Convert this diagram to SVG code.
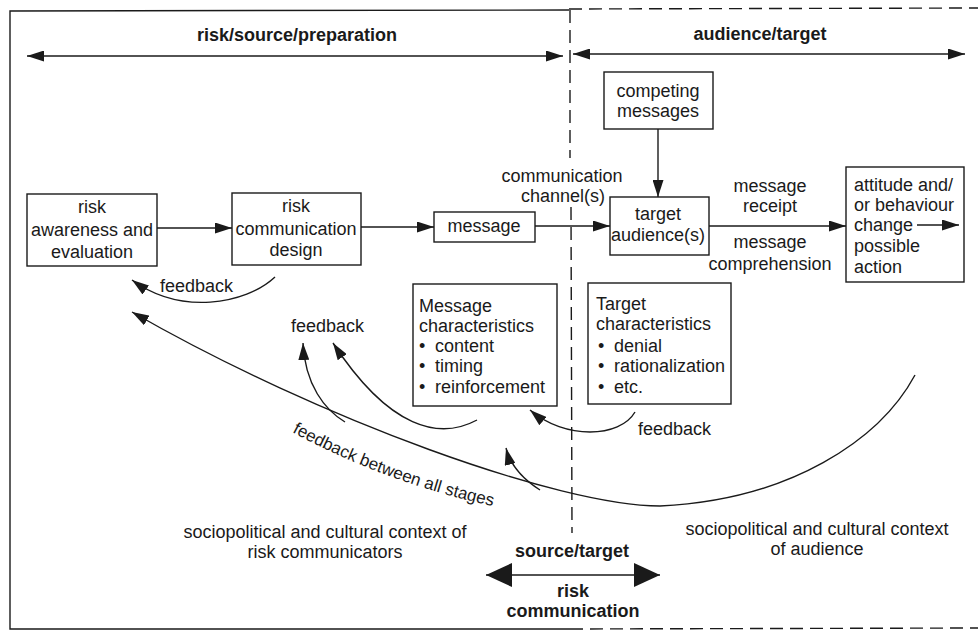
<svg xmlns="http://www.w3.org/2000/svg" width="978" height="632" viewBox="0 0 978 632">
  <style>
    .t { font-family: "Liberation Sans", Arial, sans-serif; font-size: 18px; fill: #1a1a1a; }
    .c { text-anchor: middle; }
    .b { font-weight: bold; }
    .box { fill: none; stroke: #1a1a1a; stroke-width: 1.4; }
    .ln { fill: none; stroke: #1a1a1a; stroke-width: 1.4; }
    .arr { marker-end: url(#ah); }
    .dash { fill: none; stroke: #1a1a1a; stroke-width: 1.4; stroke-dasharray: 13 7; }
  </style>
  <defs>
    <marker id="ah" markerUnits="userSpaceOnUse" markerWidth="17" markerHeight="11" refX="17" refY="5.5" orient="auto-start-reverse">
      <path d="M0,0 L17,5.5 L0,11 Z" fill="#1a1a1a"/>
    </marker>
    <marker id="ahBig" markerUnits="userSpaceOnUse" markerWidth="26" markerHeight="24" refX="26" refY="12" orient="auto-start-reverse">
      <path d="M0,0 L26,12 L0,24 Z" fill="#1a1a1a"/>
    </marker>
  </defs>

  <rect width="978" height="632" fill="#ffffff"/>

  <!-- frame: solid on the source side, dashed on the audience side -->
  <g id="frame">
    <polyline class="ln" points="569,10 10,11 10,629 570,629"/>
    <line class="dash" x1="569" y1="9" x2="978" y2="8"/>
    <line class="dash" x1="570" y1="629" x2="978" y2="628"/>
    <!-- divider, interrupted by the channel label -->
    <line class="dash" x1="570" y1="10" x2="570" y2="158"/>
    <line class="dash" x1="571" y1="207" x2="572" y2="533"/>
  </g>

  <!-- section headings -->
  <g id="heading-source">
    <line class="ln" x1="27" y1="56" x2="563" y2="56" marker-start="url(#ah)" marker-end="url(#ah)"/>
    <text class="t c b" x="297" y="41">risk/source/preparation</text>
  </g>
  <g id="heading-audience">
    <line class="ln" x1="573" y1="54" x2="965" y2="54" marker-start="url(#ah)" marker-end="url(#ah)"/>
    <text class="t c b" x="760" y="40">audience/target</text>
  </g>

  <!-- nodes -->
  <g id="risk-awareness">
    <rect class="box" x="27" y="194" width="130" height="72"/>
    <text class="t c" x="92" y="213">risk</text>
    <text class="t c" x="92" y="236">awareness and</text>
    <text class="t c" x="92" y="258">evaluation</text>
  </g>
  <g id="risk-design">
    <rect class="box" x="232" y="193" width="129" height="72"/>
    <text class="t c" x="296" y="212">risk</text>
    <text class="t c" x="296" y="235">communication</text>
    <text class="t c" x="296" y="256">design</text>
  </g>
  <g id="message">
    <rect class="box" x="434" y="212" width="101" height="30"/>
    <text class="t c" x="484" y="232">message</text>
  </g>
  <g id="competing-messages">
    <rect class="box" x="604" y="72" width="109" height="57"/>
    <text class="t c" x="658" y="97">competing</text>
    <text class="t c" x="658" y="117">messages</text>
  </g>
  <g id="target-audience">
    <rect class="box" x="610" y="197" width="99" height="58"/>
    <text class="t c" x="658" y="220">target</text>
    <text class="t c" x="658" y="241">audience(s)</text>
  </g>
  <g id="attitude-change">
    <rect class="box" x="846" y="167" width="118" height="115"/>
    <text class="t" x="854" y="191">attitude and/</text>
    <text class="t" x="854" y="211">or behaviour</text>
    <text class="t" x="854" y="231">change</text>
    <text class="t" x="854" y="252">possible</text>
    <text class="t" x="854" y="273">action</text>
    <line class="ln arr" x1="917" y1="225" x2="959" y2="225"/>
  </g>
  <g id="message-characteristics">
    <rect class="box" x="413" y="284" width="144" height="122"/>
    <text class="t" x="419" y="312">Message</text>
    <text class="t" x="419" y="332">characteristics</text>
    <text class="t" x="419" y="352">•</text><text class="t" x="435" y="352">content</text>
    <text class="t" x="419" y="372">•</text><text class="t" x="435" y="372">timing</text>
    <text class="t" x="419" y="393">•</text><text class="t" x="435" y="393">reinforcement</text>
  </g>
  <g id="target-characteristics">
    <rect class="box" x="588" y="283" width="143" height="121"/>
    <text class="t" x="596" y="310">Target</text>
    <text class="t" x="596" y="330">characteristics</text>
    <text class="t" x="598" y="352">•</text><text class="t" x="614" y="352">denial</text>
    <text class="t" x="598" y="372">•</text><text class="t" x="614" y="372">rationalization</text>
    <text class="t" x="598" y="393">•</text><text class="t" x="614" y="393">etc.</text>
  </g>

  <!-- connectors -->
  <g id="connectors">
    <line class="ln arr" x1="157" y1="228" x2="232" y2="228"/>
    <line class="ln arr" x1="361" y1="227" x2="434" y2="227"/>
    <line class="ln arr" x1="535" y1="226" x2="610" y2="226"/>
    <line class="ln arr" x1="709" y1="226" x2="846" y2="226"/>
    <line class="ln arr" x1="658" y1="129" x2="658" y2="197"/>
    <!-- feedback loops -->
    <path class="ln arr" d="M275,277 C245,305 180,315 132,280"/>
    <path class="ln arr" d="M915,375 C880,440 790,500 660,506 C560,506 320,420 132,312"/>
    <path class="ln arr" d="M345,422 C325,410 305,385 303,343"/>
    <path class="ln arr" d="M477,420 C440,440 390,430 333,343"/>
    <path class="ln arr" d="M540,490 Q512,472 506,448"/>
    <path class="ln arr" d="M635,412 C620,438 565,440 530,410"/>
    <!-- bottom two-way arrow -->
    <line class="ln" x1="486" y1="575" x2="660" y2="575" stroke-width="2.2" marker-start="url(#ahBig)" marker-end="url(#ahBig)"/>
  </g>

  <!-- connector labels -->
  <g id="labels">
    <text class="t c" x="562" y="182">communication</text>
    <text class="t c" x="563" y="202">channel(s)</text>
    <text class="t c" x="770" y="192">message</text>
    <text class="t c" x="770" y="212">receipt</text>
    <text class="t c" x="770" y="248">message</text>
    <text class="t c" x="770" y="270">comprehension</text>
    <text class="t" x="160" y="292">feedback</text>
    <text class="t" x="291" y="332">feedback</text>
    <text class="t" x="638" y="435">feedback</text>
    <path id="allStagesPath" d="M292,432 Q390,485 502,508" fill="none"/>
    <text class="t" style="font-size:17px"><textPath href="#allStagesPath">feedback between all stages</textPath></text>
    <text class="t c" x="325" y="538">sociopolitical and cultural context of</text>
    <text class="t c" x="325" y="558">risk  communicators</text>
    <text class="t c" x="817" y="535">sociopolitical and cultural context</text>
    <text class="t c" x="817" y="555">of audience</text>
    <text class="t c b" x="572" y="557">source/target</text>
    <text class="t c b" x="573" y="597">risk</text>
    <text class="t c b" x="573" y="617">communication</text>
  </g>
</svg>
